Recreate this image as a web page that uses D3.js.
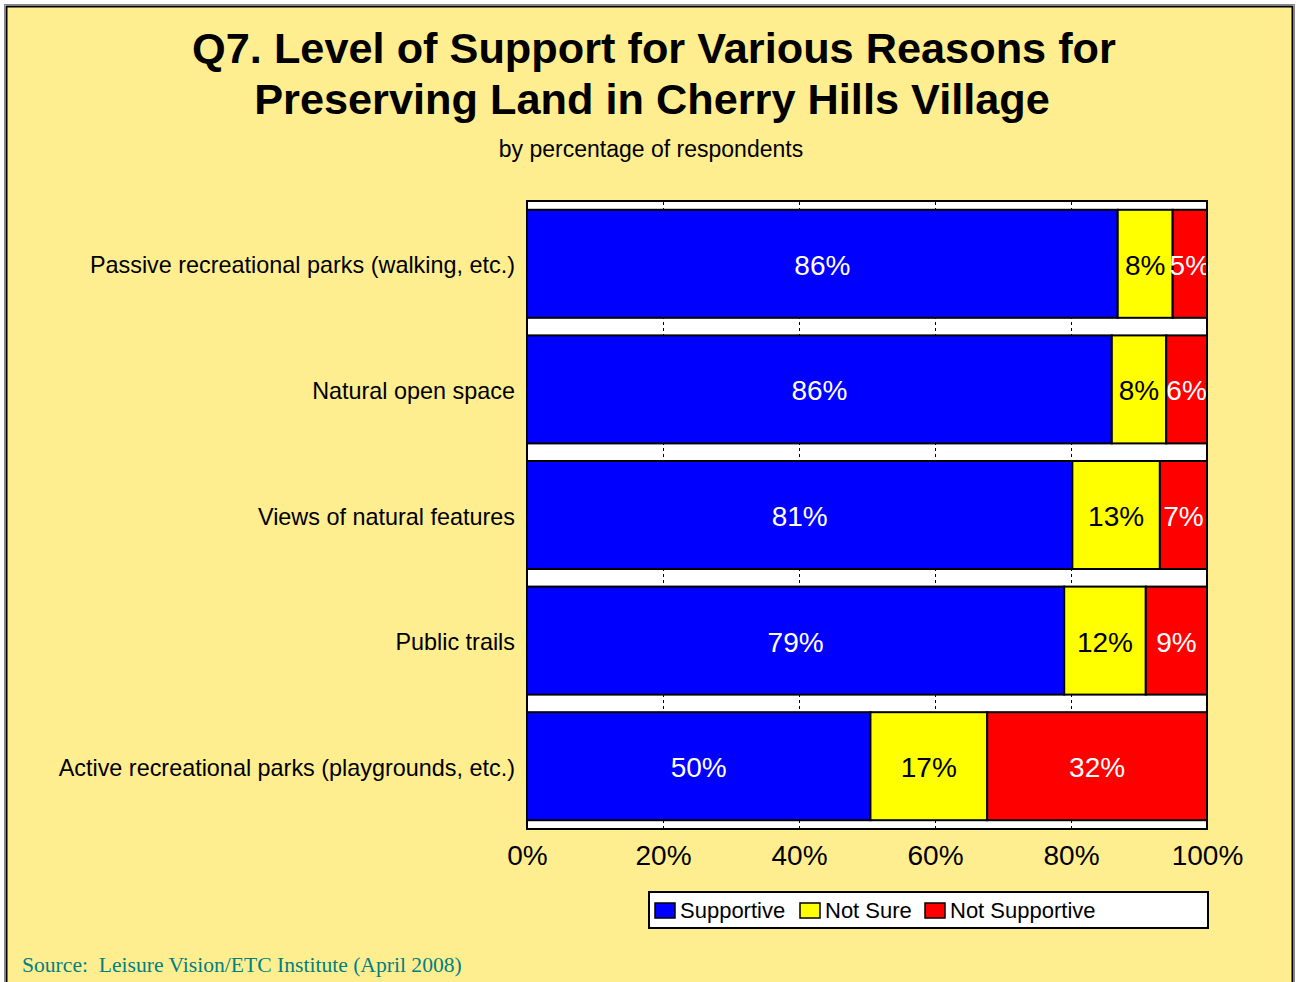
<!DOCTYPE html>
<html>
<head>
<meta charset="utf-8">
<script src="https://cdn.jsdelivr.net/npm/d3@7"></script>
<style>
  html, body { margin: 0; padding: 0; background: #ffffff; }
  svg { display: block; font-family: "Liberation Sans", Arial, sans-serif; }
</style>
</head>
<body>
<svg id="chart" width="1299" height="982"></svg>
<script>
const categories = [
  "Passive recreational parks (walking, etc.)",
  "Natural open space",
  "Views of natural features",
  "Public trails",
  "Active recreational parks (playgrounds, etc.)"
];
const seriesNames = ["Supportive", "Not Sure", "Not Supportive"];
const supportive = [86, 86, 81, 79, 50];
const notSure = [8, 8, 13, 12, 17];
const notSupportive = [5, 6, 7, 9, 32];
const tickValues = [0, 0.2, 0.4, 0.6, 0.8, 1.0];
const colors = ["#0000FF", "#FFFF00", "#FF0000"];
const labelColors = ["#FFFFFF", "#000000", "#FFFFFF"];

const rows = categories.map((c, i) => ({
  category: c,
  "Supportive": supportive[i],
  "Not Sure": notSure[i],
  "Not Supportive": notSupportive[i]
}));

const SANS = "'Liberation Sans', Arial, sans-serif";
const SERIF = "'Liberation Serif', 'Times New Roman', serif";

const svg = d3.select("#chart");
const W = 1299, H = 982;

// background + frame
svg.append("rect").attr("x", 0).attr("y", 0).attr("width", W).attr("height", H).attr("fill", "#ffffff");
svg.append("rect").attr("x", 4.5).attr("y", 4.5).attr("width", 1290).attr("height", 1000)
  .attr("fill", "none").attr("stroke", "#888888").attr("stroke-width", 1);
svg.append("rect").attr("x", 6.5).attr("y", 6.5).attr("width", 1286).attr("height", 1000)
  .attr("fill", "#FFEE90").attr("stroke", "#000000").attr("stroke-width", 2);

// titles
svg.append("text").attr("x", 654).attr("y", 63).attr("text-anchor", "middle")
  .style("font-family", SANS).style("font-size", "43.3px").style("font-weight", "bold").attr("fill", "#000")
  .text("Q7. Level of Support for Various Reasons for");
svg.append("text").attr("x", 652).attr("y", 114).attr("text-anchor", "middle")
  .style("font-family", SANS).style("font-size", "43.3px").style("font-weight", "bold").attr("fill", "#000")
  .text("Preserving Land in Cherry Hills Village");
svg.append("text").attr("x", 651).attr("y", 157).attr("text-anchor", "middle")
  .style("font-family", SANS).style("font-size", "23px").attr("fill", "#000")
  .text("by percentage of respondents");

// plot area
const plot = { left: 527, top: 201, right: 1207, bottom: 829 };
const pw = plot.right - plot.left, ph = plot.bottom - plot.top;

const x = d3.scaleLinear().domain([0, 1]).range([plot.left, plot.right]);
const y = d3.scaleBand().domain(categories).range([plot.top, plot.bottom])
  .paddingInner(0.14).paddingOuter(0.07);

svg.append("rect").attr("x", plot.left).attr("y", plot.top).attr("width", pw).attr("height", ph)
  .attr("fill", "#ffffff");

// gridlines
const grid = svg.append("g").attr("transform", `translate(0,${plot.bottom})`)
  .call(d3.axisBottom(x).tickValues(tickValues.filter(v => v > 0 && v < 1)).tickSize(-ph).tickFormat(""));
grid.select(".domain").remove();
grid.selectAll("line").attr("stroke", "#000").attr("stroke-width", 1).attr("stroke-dasharray", "3,3");

// stacked 100% bars
const stack = d3.stack().keys(seriesNames).offset(d3.stackOffsetExpand);
const stacked = stack(rows);

const layers = svg.append("g").selectAll("g").data(stacked).join("g")
  .attr("fill", (d, i) => colors[i]);
layers.selectAll("rect").data(d => d).join("rect")
  .attr("x", d => x(d[0]))
  .attr("y", d => y(d.data.category))
  .attr("width", d => x(d[1]) - x(d[0]))
  .attr("height", y.bandwidth())
  .attr("stroke", "#000").attr("stroke-width", 2);

// value labels
const lab = svg.append("g");
stacked.forEach((layer, li) => {
  lab.selectAll(null).data(layer).join("text")
    .attr("x", d => (x(d[0]) + x(d[1])) / 2)
    .attr("y", d => y(d.data.category) + y.bandwidth() / 2 + 1)
    .attr("dy", "0.36em")
    .attr("text-anchor", "middle")
    .style("font-family", SANS).style("font-size", "28px")
    .attr("fill", labelColors[li])
    .text(d => d.data[layer.key] + "%");
});

// plot border
svg.append("rect").attr("x", plot.left).attr("y", plot.top).attr("width", pw).attr("height", ph)
  .attr("fill", "none").attr("stroke", "#000").attr("stroke-width", 2);

// x axis labels
const xa = svg.append("g").attr("transform", `translate(0,${plot.bottom})`)
  .call(d3.axisBottom(x).tickValues(tickValues).tickSize(0).tickPadding(16).tickFormat(d3.format(".0%")));
xa.select(".domain").remove();
xa.selectAll("text").style("font-size", "28px").style("font-family", SANS).attr("fill", "#000");

// y axis labels
const ya = svg.append("g").attr("transform", `translate(${plot.left - 12},2)`)
  .call(d3.axisLeft(y).tickSize(0).tickPadding(0));
ya.select(".domain").remove();
ya.selectAll("text").style("font-size", "23.4px").style("font-family", SANS).attr("fill", "#000");

// legend
const lg = svg.append("g");
lg.append("rect").attr("x", 649).attr("y", 892).attr("width", 559).attr("height", 36)
  .attr("fill", "#fff").attr("stroke", "#000").attr("stroke-width", 2);
const legendX = [655, 800, 925];
seriesNames.forEach((s, i) => {
  lg.append("rect").attr("x", legendX[i]).attr("y", 903).attr("width", 20).attr("height", 15)
    .attr("fill", colors[i]).attr("stroke", "#000").attr("stroke-width", 1.5);
  lg.append("text").attr("x", legendX[i] + 25).attr("y", 918)
    .style("font-family", SANS).style("font-size", "22px").attr("fill", "#000").text(s);
});

// source
svg.append("text").attr("x", 22).attr("y", 972)
  .style("font-family", SERIF).style("font-size", "21.6px")
  .attr("fill", "#008080").style("white-space", "pre")
  .text("Source:  Leisure Vision/ETC Institute (April 2008)");
</script>
</body>
</html>
